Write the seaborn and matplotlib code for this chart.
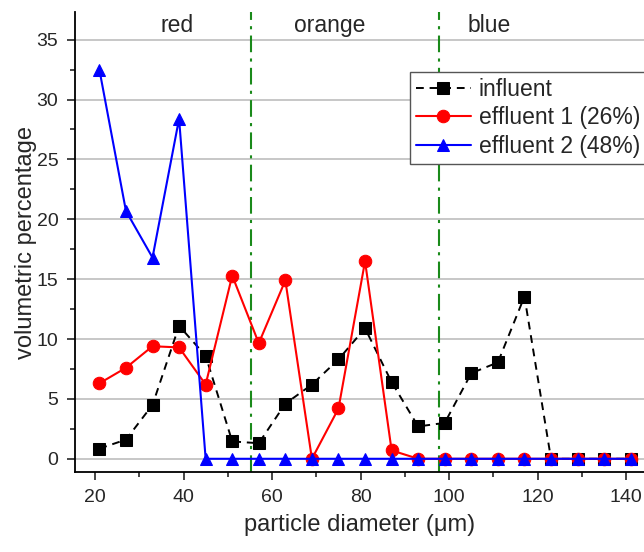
import numpy as np
import pandas as pd
import matplotlib
matplotlib.use("Agg")
import matplotlib.pyplot as plt
import seaborn as sns

# particle diameter classes (um)
diameter = [21, 27, 33, 39, 45, 51, 57, 63, 69, 75, 81, 87, 93, 99, 105, 111, 117, 123, 129, 135, 141]

# volumetric percentage per class
influent = [0.85, 1.6, 4.5, 11.1, 8.6, 1.45, 1.3, 4.6, 6.2, 8.3, 10.9, 6.4, 2.7, 3.0, 7.15, 8.05, 13.55, 0, 0, 0, 0]
effluent1 = [6.3, 7.6, 9.4, 9.3, 6.2, 15.3, 9.65, 14.9, 0, 4.2, 16.5, 0.7, 0, 0, 0, 0, 0, 0, 0, 0, 0]
effluent2 = [32.5, 20.7, 16.8, 28.4, 0, 0, 0, 0, 0, 0, 0, 0, 0, 0, 0, 0, 0, 0, 0, 0, 0]

zone_names = ["red", "orange", "blue"]
zone_label_x = [38.5, 73, 109]
zone_bounds = [55.2, 97.6]

sns.set_style("white")
plt.rcParams['font.family'] = ['Liberation Sans', 'DejaVu Sans']

fig = plt.figure(figsize=(6.44, 5.52), dpi=100)
ax = fig.add_axes([0.1165, 0.145, 0.8835, 0.833])

df = pd.DataFrame({"d": diameter, "inf": influent, "e1": effluent1, "e2": effluent2})

# gridlines
for yv in range(0, 40, 5):
    ax.axhline(yv, color="#bdbdbd", lw=1.2, zorder=0)

sns.lineplot(data=df, x="d", y="inf", ax=ax, color="black", lw=1.4, linestyle=(0, (4, 3)),
             marker="s", markersize=8, markeredgecolor="black", label="influent", zorder=3)
sns.lineplot(data=df, x="d", y="e1", ax=ax, color="#ff0000", lw=1.5,
             marker="o", markersize=9, markeredgecolor="#ff0000", label="effluent 1 (26%)", zorder=4)
sns.lineplot(data=df, x="d", y="e2", ax=ax, color="#0000ff", lw=1.5,
             marker="^", markersize=9, markeredgecolor="#0000ff", label="effluent 2 (48%)", zorder=5)

for xb in zone_bounds:
    ax.axvline(xb, color="#1a8a1a", lw=1.5, linestyle=(0, (8, 3, 1.5, 3)), zorder=2)

for name, xl in zip(zone_names, zone_label_x):
    ax.text(xl, 36.2, name, ha="center", va="center", fontsize=16.5)

ax.set_xlim(15.5, 144)
ax.set_ylim(-1.1, 37.3)
ax.set_xticks(range(20, 141, 20))
ax.set_xticks(range(30, 141, 20), minor=True)
ax.set_yticks(range(0, 36, 5))
ax.set_yticks(np.arange(2.5, 37, 5), minor=True)
ax.tick_params(which="major", direction="out", length=6, width=1.2, labelsize=14, pad=6,
               bottom=True, left=True)
ax.tick_params(which="minor", direction="out", length=3.5, width=1.2, bottom=True, left=True)

for s in ["top", "right"]:
    ax.spines[s].set_visible(False)
for s in ["left", "bottom"]:
    ax.spines[s].set_color("black")
    ax.spines[s].set_linewidth(1.3)

ax.set_xlabel("particle diameter (\u03bcm)", fontsize=17, labelpad=6)
ax.set_ylabel("volumetric percentage", fontsize=17, labelpad=0)

leg = ax.legend(loc="upper left", bbox_to_anchor=(410 / 644, 1 - 72 / 552),
                bbox_transform=fig.transFigure, fontsize=16.5, frameon=True,
                fancybox=False, edgecolor="#555555", framealpha=1, handlelength=2.4,
                handletextpad=0.35, borderpad=0.25, labelspacing=0.25, borderaxespad=0)
leg.get_frame().set_linewidth(1.0)

fig.savefig("out.png", dpi=100)
